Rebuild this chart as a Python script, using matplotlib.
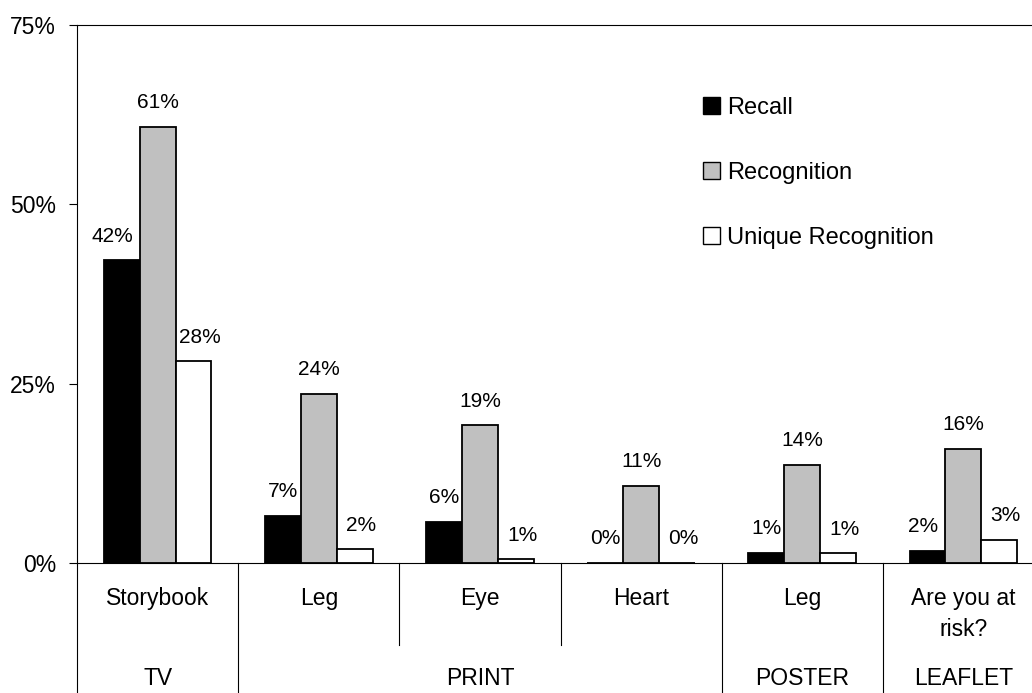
import matplotlib
matplotlib.use("Agg")
import matplotlib.pyplot as plt
import matplotlib.transforms as mtransforms
from matplotlib.patches import Patch
import numpy as np

plt.rcParams['font.family'] = ['Liberation Sans', 'DejaVu Sans']

# ---- data ----
categories = ['Storybook', 'Leg', 'Eye', 'Heart', 'Leg', 'Are you at\nrisk?']
media_groups = ['TV', 'PRINT', 'POSTER', 'LEAFLET']
media_spans = [1, 3, 1, 1]
series_names = ['Recall', 'Recognition', 'Unique Recognition']
recall = [42.2, 6.6, 5.7, 0.0, 1.4, 1.7]
recognition = [60.8, 23.6, 19.2, 10.7, 13.7, 15.9]
unique_recognition = [28.1, 1.9, 0.5, 0.0, 1.35, 3.2]
value_labels = [
    ['42%', '7%', '6%', '0%', '1%', '2%'],
    ['61%', '24%', '19%', '11%', '14%', '16%'],
    ['28%', '2%', '1%', '0%', '1%', '3%'],
]
y_ticks = [0, 25, 50, 75]

# ---- style ----
colors = ['#000000', '#C0C0C0', '#FFFFFF']
bar_w = 0.223
label_dx_pt = [[-7, 0, 0, 0, 0, -3], [0] * 6, [4.5] * 6]

W, H, DPI = 1032, 693, 100
fig = plt.figure(figsize=(W / DPI, H / DPI), dpi=DPI)
ax_left, ax_right, ax_top, ax_bottom = 77, 1044, 25, 563
ax = fig.add_axes([ax_left / W, 1 - ax_bottom / H,
                   (ax_right - ax_left) / W, (ax_bottom - ax_top) / H])

n = len(categories)
x = np.arange(n) + 0.5
all_series = [recall, recognition, unique_recognition]
for si, (vals, c, name) in enumerate(zip(all_series, colors, series_names)):
    xs = x + (si - 1) * bar_w
    ax.bar(xs, vals, width=bar_w, color=c, edgecolor='black', linewidth=1.3,
           label=name, zorder=3)
    for xi, v, lab, dx in zip(xs, vals, value_labels[si], label_dx_pt[si]):
        ax.annotate(lab, (xi, v), xytext=(dx, 13.5), textcoords='offset points',
                    ha='center', va='baseline', fontsize=15)

ax.set_xlim(0, n)
ax.set_ylim(0, 75)
ax.set_yticks(y_ticks)
ax.set_yticklabels([f'{t}%' for t in y_ticks], fontsize=16.5)
ax.tick_params(axis='y', direction='out', length=6, width=0.8, pad=9)
ax.set_xticks([])
for s in ['left', 'bottom', 'top']:
    ax.spines[s].set_linewidth(0.8)
ax.spines['right'].set_visible(False)

# category axis (two levels) below the plot
trans = mtransforms.blended_transform_factory(ax.transData, ax.transAxes)
plot_h = ax_bottom - ax_top

def yfrac(px):
    return (ax_bottom - px) / plot_h

line_h = 31
for xi, cat in zip(x, categories):
    for li, line in enumerate(cat.split('\n')):
        ax.text(xi, yfrac(605 + li * line_h), line, transform=trans,
                ha='center', va='baseline', fontsize=16.5)

boundaries_full = [0]
pos = 0
for g, span in zip(media_groups, media_spans):
    ax.text(pos + span / 2, yfrac(685), g, transform=trans,
            ha='center', va='baseline', fontsize=16.5)
    for k in range(1, span):
        ax.plot([pos + k, pos + k], [0, yfrac(645)], color='black', lw=0.8,
                transform=trans, clip_on=False)
    pos += span
    boundaries_full.append(pos)
for b in boundaries_full:
    ax.plot([b, b], [0, yfrac(H + 5)], color='black', lw=0.8,
            transform=trans, clip_on=False)

handles = [Patch(facecolor=c, edgecolor='black', linewidth=1.0) for c in colors]
leg = ax.legend(handles, series_names, loc='upper left',
                bbox_to_anchor=(703 / W, 1 - 97 / H), bbox_transform=fig.transFigure,
                frameon=False, fontsize=17, handlelength=0.7, handleheight=0.7,
                handletextpad=0.33, labelspacing=1.82, borderpad=0, borderaxespad=0)

fig.savefig('out.png', dpi=DPI)
